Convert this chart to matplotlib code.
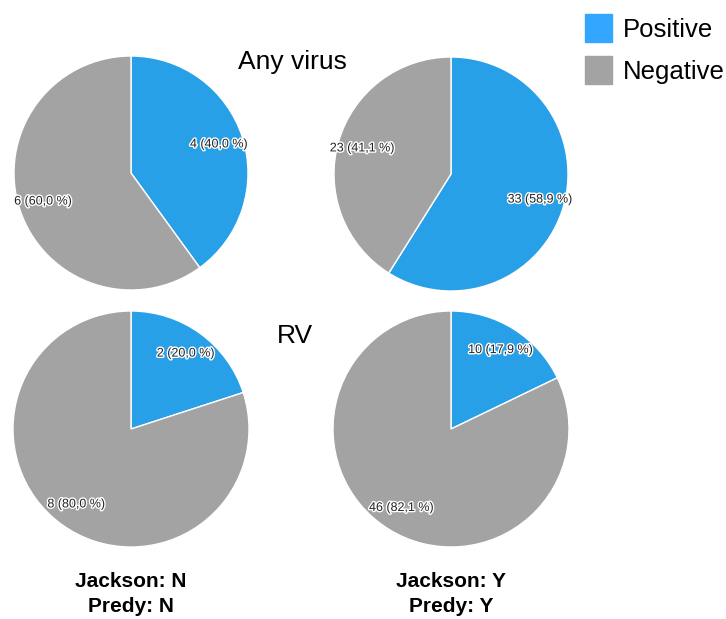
import matplotlib.pyplot as plt
import matplotlib.patheffects as pe
from matplotlib.patches import Rectangle

plt.rcParams['font.family'] = ['Liberation Sans', 'DejaVu Sans']

W, H = 726, 619

categories = ['Positive', 'Negative']
colors = ['#28a0e8', '#a3a3a3']
legend_colors = ['#33a7ff', '#a3a3a3']

# counts per panel: [positive, negative]
any_virus_N = [4, 6]
any_virus_Y = [33, 23]
rv_N = [2, 8]
rv_Y = [10, 46]
row_titles = ['Any virus', 'RV']
group_labels = ['Jackson: N\nPredy: N', 'Jackson: Y\nPredy: Y']

panels = [
    (any_virus_N, 131, 173, 117),
    (any_virus_Y, 451, 174, 117),
    (rv_N, 131, 429, 118),
    (rv_Y, 451, 429, 118),
]

fig = plt.figure(figsize=(W / 100, H / 100), dpi=100)


def fmt(values):
    total = sum(values)
    def inner(pct):
        n = int(round(pct * total / 100.0))
        return f'{n} ({pct:.1f} %)'.replace('.', ',')
    return inner


for values, cx, cy, r in panels:
    ax = fig.add_axes([(cx - r) / W, (H - cy - r) / H, 2 * r / W, 2 * r / H])
    wedges, texts, autotexts = ax.pie(
        values, colors=colors, startangle=90, counterclock=False,
        autopct=fmt(values), pctdistance=0.79,
        wedgeprops=dict(edgecolor='white', linewidth=1),
    )
    for t in autotexts:
        t.set_fontsize(9)
        t.set_color('#222222')
        t.set_path_effects([pe.withStroke(linewidth=2, foreground='white')])
    ax.set_xlim(-1, 1)
    ax.set_ylim(-1, 1)
    ax.axis('off')

fig.text(292 / W, 1 - 62 / H, row_titles[0], ha='center', va='center', fontsize=19)
fig.text(295 / W, 1 - 336 / H, row_titles[1], ha='center', va='center', fontsize=19)

for x, label in zip([131, 451], group_labels):
    fig.text(x / W, 1 - 594 / H, label, ha='center', va='center',
             fontsize=15, fontweight='bold', linespacing=1.38)

# legend
for i, (name, c) in enumerate(zip(categories, legend_colors)):
    y = 14 + i * 42
    fig.patches.append(Rectangle((585 / W, 1 - (y + 28) / H), 27 / W, 28 / H,
                                 transform=fig.transFigure, color=c))
    fig.text(623 / W, 1 - (y + 16) / H, name, ha='left', va='center', fontsize=18.5)

fig.savefig('out.png', dpi=100)
